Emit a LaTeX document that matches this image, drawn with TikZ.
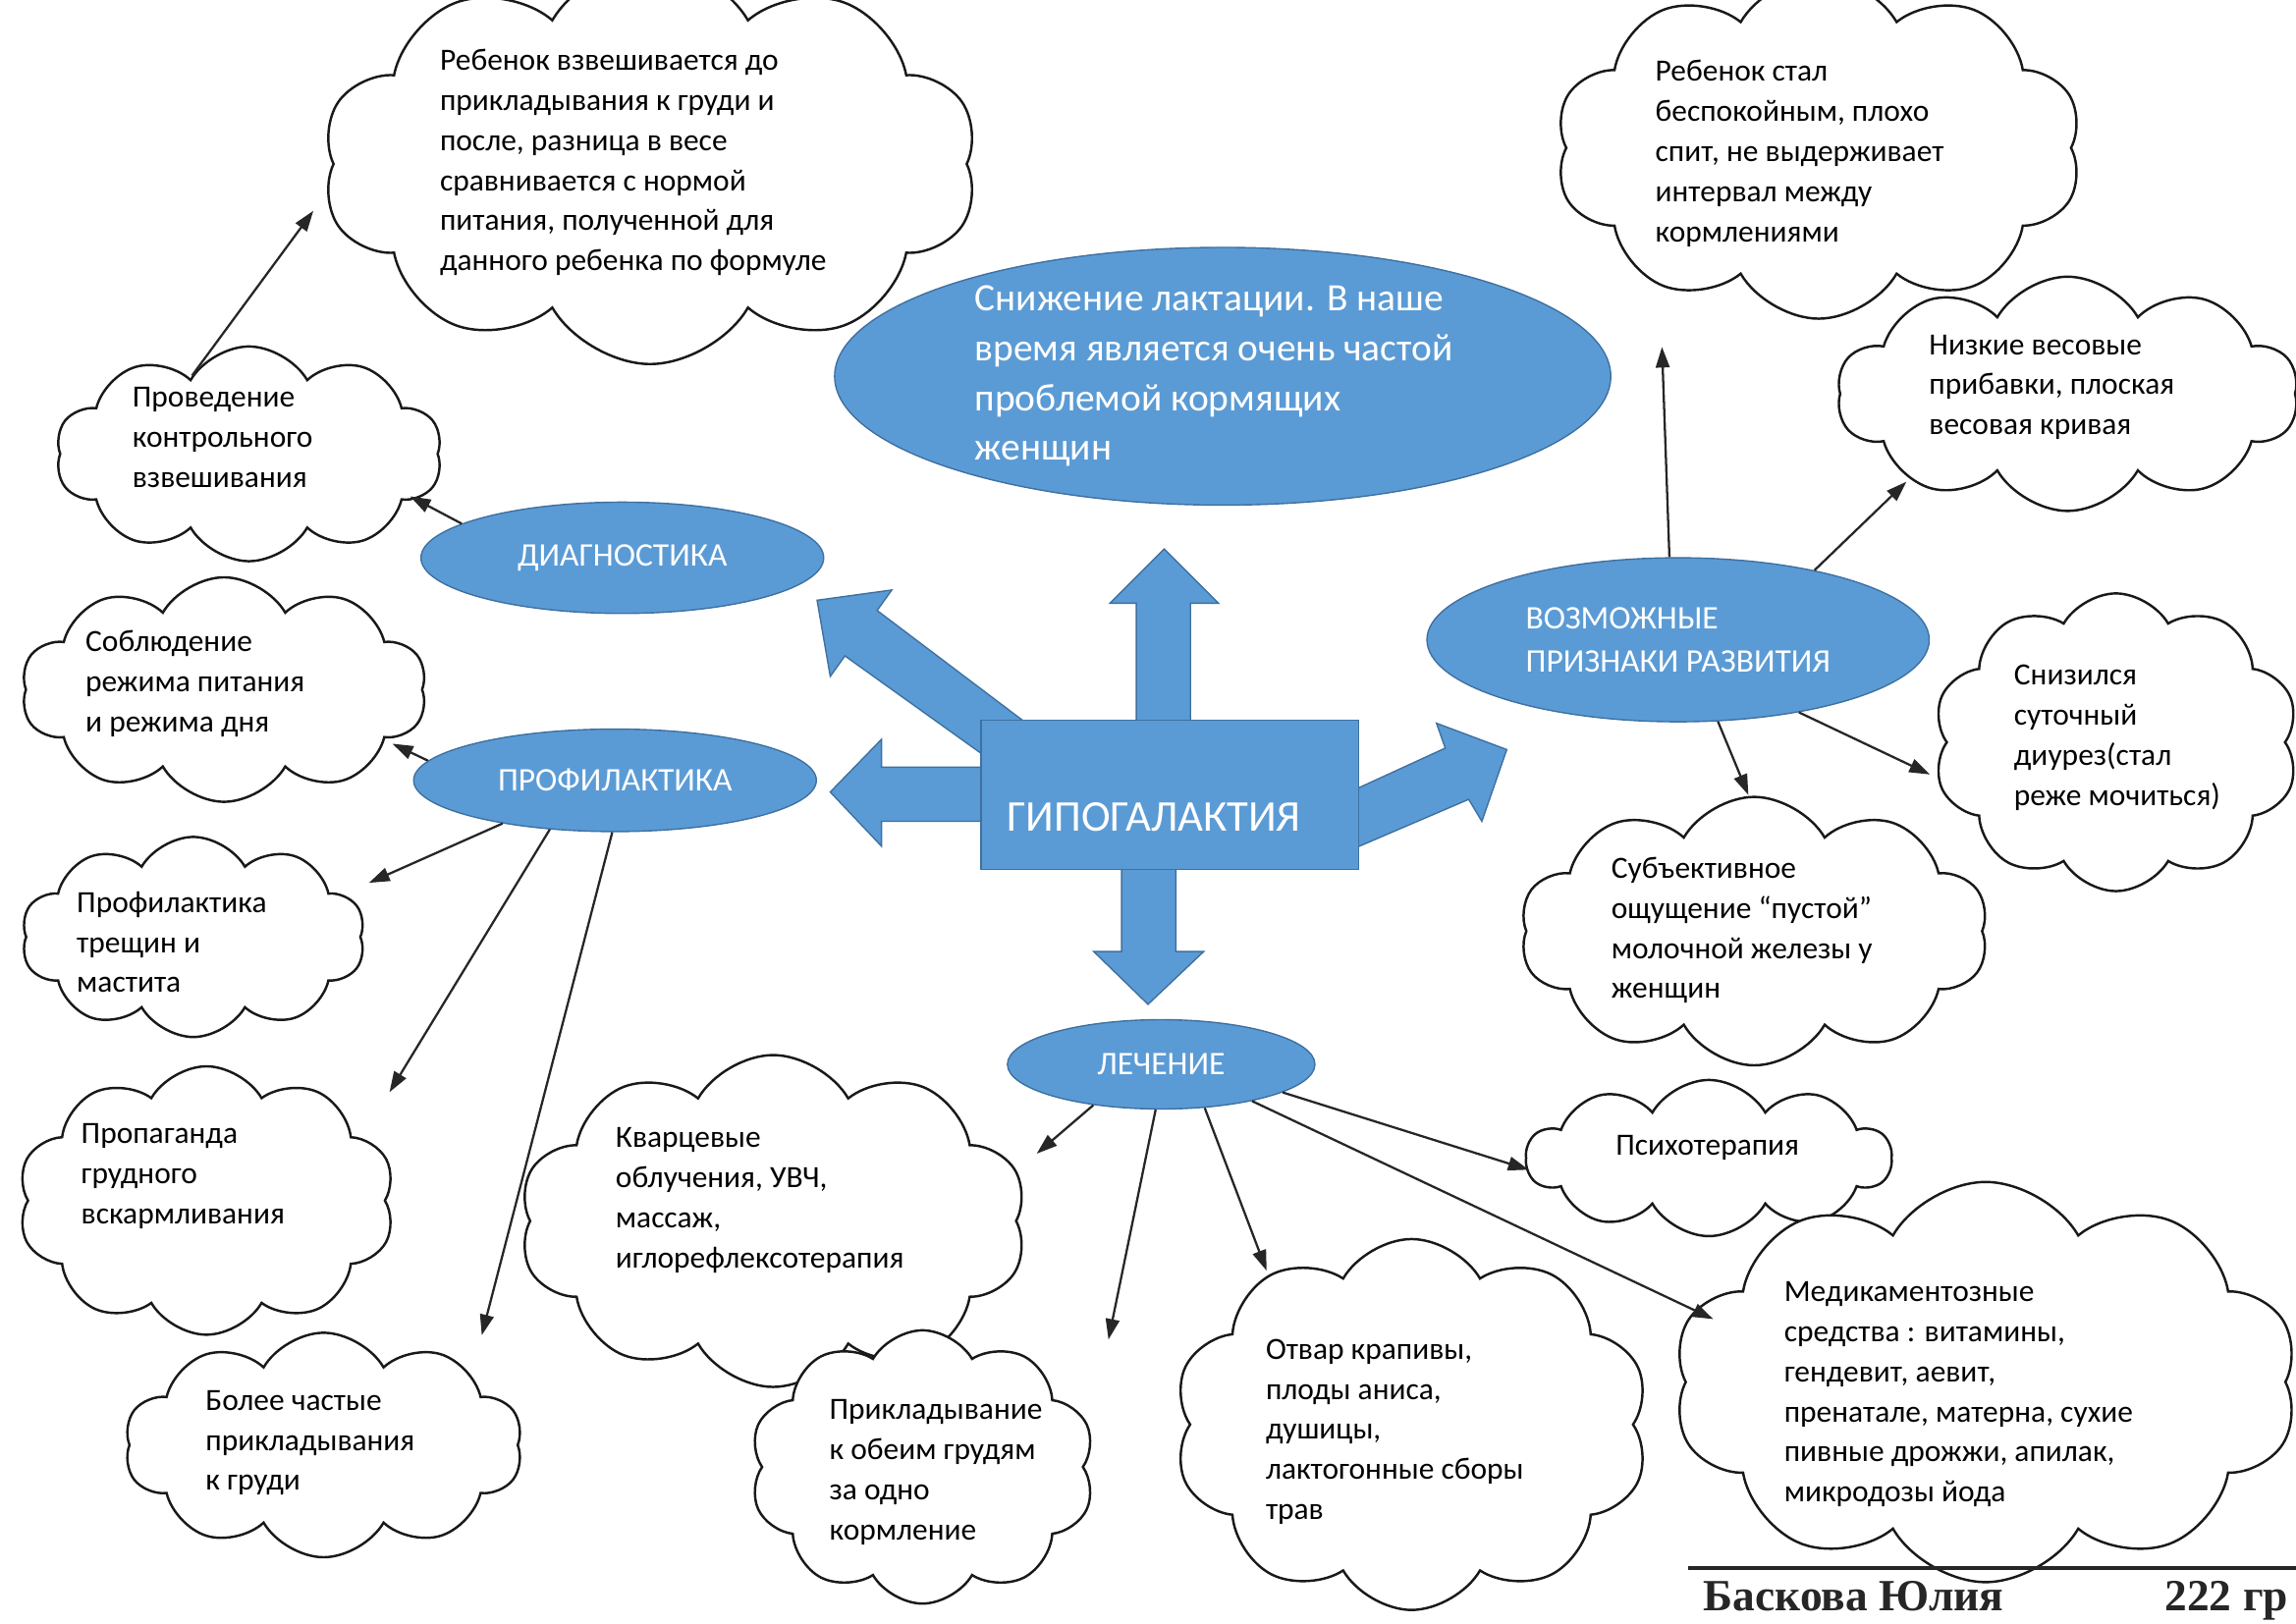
\documentclass[tikz,border=0pt]{standalone}
\usepackage{fontspec}
\setmainfont{Carlito}
\newfontfamily\footfont{Liberation Serif}
\usetikzlibrary{shapes.symbols,shapes.geometric,arrows.meta}
\definecolor{bluefill}{RGB}{91,155,213}
\definecolor{blueline}{RGB}{62,112,160}
\begin{document}
\begin{tikzpicture}[x=0.015cm,y=-0.015cm,
  cloudbox/.style={cloud, cloud puffs=10, cloud puff arc=120, cloud ignores aspect, draw=black!90, line width=0.7pt, fill=white, inner sep=0pt},
  ctext/.style={anchor=base west, align=left, inner sep=0pt, font=\fontsize{9.0}{11.7}\selectfont},
  blueell/.style={ellipse, fill=bluefill, draw=blueline, line width=0.4pt, text=white, inner sep=0pt, align=center, font=\fontsize{9.6}{12.8}\selectfont},
  bigarrow/.style={fill=bluefill, draw=blueline, line width=0.4pt},
  conn/.style={draw=black!85, line width=0.65pt, -{Triangle[length=6pt,width=4pt]}}
]
\useasboundingbox (0,0) rectangle (1568,1109);
\fill[white] (0,0) rectangle (1568,1109);

% clouds
\node[cloudbox, minimum width=6.72cm, minimum height=4.1cm] (c1) at (444,112) {};
\node[cloudbox, minimum width=3.96cm, minimum height=2.2cm] (c2) at (170,310) {};
\node[cloudbox, minimum width=4.155cm, minimum height=2.3cm] (c3) at (153,471) {};
\node[cloudbox, minimum width=3.525cm, minimum height=2.05cm] (c4) at (132,640) {};
\node[cloudbox, minimum width=3.87cm, minimum height=2.75cm] (c5) at (141,820) {};
\node[cloudbox, minimum width=4.08cm, minimum height=2.3cm] (c6) at (221,987) {};
\node[cloudbox, minimum width=5.205cm, minimum height=3.4cm] (c7) at (528,834) {};
\node[cloudbox, minimum width=3.54cm, minimum height=2.8cm] (c8) at (630,1002) {};
\node[cloudbox, minimum width=4.875cm, minimum height=3.8cm] (c9) at (964,973) {};
\node[cloudbox, minimum width=3.735cm, minimum height=1.6cm] (c10) at (1167,791) {};
\node[cloudbox, minimum width=6.405cm, minimum height=4.1cm] (c11) at (1356,944) {};
\node[cloudbox, minimum width=5.4cm, minimum height=3.5cm] (c12) at (1242,101) {};
\node[cloudbox, minimum width=4.725cm, minimum height=2.4cm] (c13) at (1412,269) {};
\node[cloudbox, minimum width=3.75cm, minimum height=3.05cm] (c14) at (1445,507) {};
\node[cloudbox, minimum width=4.8cm, minimum height=2.75cm] (c15) at (1198,636) {};

% cloud texts (anchored at the baseline of their last line)
\node[ctext] (t1) at (300,185) {Ребенок взвешивается до\\прикладывания к груди и\\после, разница в весе\\сравнивается с нормой\\питания, полученной для\\данного ребенка по формуле};
\node[ctext] (t2) at (90,333) {Проведение\\контрольного\\взвешивания};
\node[ctext] (t3) at (58,500) {Соблюдение\\режима питания\\и режима дня};
\node[ctext] (t4) at (52,678) {Профилактика\\трещин и\\мастита};
\node[ctext] (t5) at (55,836) {Пропаганда\\грудного\\вскармливания};
\node[ctext] (t6) at (140,1018) {Более частые\\прикладывания\\к груди};
\node[ctext] (t7) at (420,866) {Кварцевые\\облучения, УВЧ,\\массаж,\\иглорефлексотерапия};
\node[ctext] (t8) at (566,1052) {Прикладывание\\к обеим грудям\\за одно\\кормление};
\node[ctext] (t9) at (864,1038) {Отвар крапивы,\\плоды аниса,\\душицы,\\лактогонные сборы\\трав};
\node[ctext] (t10) at (1103,789) {Психотерапия};
\node[ctext] (t11) at (1218,1026) {Медикаментозные\\средства : витамины,\\гендевит, аевит,\\пренатале, матерна, сухие\\пивные дрожжи, апилак,\\микродозы йода};
\node[ctext] (t12) at (1130,165) {Ребенок стал\\беспокойным, плохо\\спит, не выдерживает\\интервал между\\кормлениями};
\node[ctext] (t13) at (1317,297) {Низкие весовые\\прибавки, плоская\\весовая кривая};
\node[ctext] (t14) at (1375,550) {Снизился\\суточный\\диурез(стал\\реже мочиться)};
\node[ctext] (t15) at (1100,682) {Субъективное\\ощущение “пустой”\\молочной железы у\\женщин};

% big blue arrows
\path[bigarrow] (776,494) -- (776,412) -- (758,412) -- (795,375) -- (832,412) -- (813,412) -- (813,494) -- cycle;
\path[bigarrow] (766,592) -- (766,650) -- (747,650) -- (784,686) -- (822,650) -- (803,650) -- (803,592) -- cycle;
\path[bigarrow] (672,524) -- (602,524) -- (602,505) -- (567,541) -- (602,578) -- (602,561) -- (672,561) -- cycle;
\path[bigarrow] (701,494) -- (599,417) -- (609,403) -- (558,410) -- (567,462) -- (577,448) -- (672,516) -- cycle;
\path[bigarrow] (926,539) -- (987,511) -- (981,494) -- (1029,512) -- (1012,561) -- (1003,546) -- (926,579) -- cycle;

% centre rectangle
\node[fill=bluefill, draw=blueline, line width=0.4pt, minimum width=3.87cm, minimum height=1.53cm, inner sep=0pt] (gipo) at (799,543) {};
\node[text=white, inner sep=0pt, font=\fontsize{12.8}{15}\selectfont] (gipot) at (788,558) {ГИПОГАЛАКТИЯ};

% ellipses
\node[blueell, minimum width=7.95cm, minimum height=2.64cm] (main) at (835,257) {};
\node[text=white, align=left, inner sep=0pt, font=\fontsize{11.3}{14.5}\selectfont] (maintext) at (829,257) {Снижение лактации. В наше\\время является очень частой\\проблемой кормящих\\женщин};
\node[blueell, minimum width=4.125cm, minimum height=1.14cm] (diag) at (425,381) {ДИАГНОСТИКА};
\node[blueell, minimum width=4.125cm, minimum height=1.05cm] (prof) at (420,533) {ПРОФИЛАКТИКА};
\node[blueell, minimum width=5.145cm, minimum height=1.68cm, align=left] (vozm) at (1146,437) {ВОЗМОЖНЫЕ\\ПРИЗНАКИ РАЗВИТИЯ};
\node[blueell, minimum width=3.15cm, minimum height=0.915cm] (lech) at (793,727) {ЛЕЧЕНИЕ};

% connector tips
\coordinate (e2) at (280,339);
\coordinate (e1) at (214,144);
\coordinate (e3) at (268,508);
\coordinate (e4) at (252,603);
\coordinate (e5) at (266,746);
\coordinate (e6) at (329,912);
\coordinate (e12) at (1135,237);
\coordinate (e13) at (1302,329);
\coordinate (e14) at (1318,529);
\coordinate (e15) at (1194,543);
\coordinate (e7) at (708,788);
\coordinate (e8) at (757,915);
\coordinate (e9) at (865,868);
\coordinate (e10) at (1044,799);
\coordinate (e11) at (1170,901);

\draw[conn] (diag.168) -- (e2);
\draw[conn] (c2.126) -- (e1);
\draw[conn] (prof.174.6) -- (e3);
\draw[conn] (prof.201.5) -- (e4);
\draw[conn] (prof.217.6) -- (e5);
\draw[conn] (prof.267.5) -- (e6);
\draw[conn] (vozm.96.6) -- (e12);
\draw[conn] (vozm.27) -- (e13);
\draw[conn] (vozm.329) -- (e14);
\draw[conn] (vozm.296.6) -- (e15);
\draw[conn] (lech.211.6) -- (e7);
\draw[conn] (lech.263.4) -- (e8);
\draw[conn] (lech.315) -- (e9);
\draw[conn] (lech.347.8) -- (e10);
\draw[conn] (lech.338.6) -- (e11);

% footer
\coordinate (fl) at (1153,1071);
\coordinate (fr) at (1570,1071);
\draw[line width=1.1pt, black!85] (fl) -- (fr);
\node[anchor=base west, inner sep=0pt, text=black!85, font=\footfont\bfseries\fontsize{13}{16}\selectfont] (auth) at (1163,1100) {Баскова Юлия};
\node[anchor=base west, inner sep=0pt, text=black!85, font=\footfont\bfseries\fontsize{13}{16}\selectfont] (grp) at (1478,1100) {222 гр};
\end{tikzpicture}
\end{document}
